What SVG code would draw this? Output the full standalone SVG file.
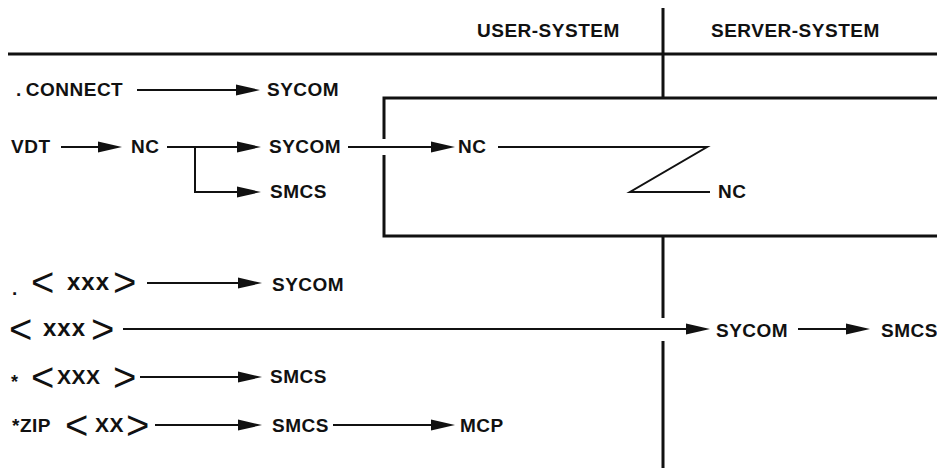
<svg xmlns="http://www.w3.org/2000/svg" width="937" height="468" viewBox="0 0 937 468">
<defs>
<marker id="ah" markerUnits="userSpaceOnUse" markerWidth="24" markerHeight="12" refX="13" refY="6" orient="auto"><path d="M0,0.5 L24,6 L0,11.5 Z" fill="#111"/></marker>
</defs>
<style>
.t{font-family:"Liberation Sans",Arial,sans-serif;font-weight:bold;font-size:19px;letter-spacing:0.5px;fill:#111}
.b{font-family:"Liberation Sans",Arial,sans-serif;font-size:40px;fill:#111}
.x{font-family:"Liberation Sans",Arial,sans-serif;font-weight:bold;font-size:24px;letter-spacing:1px;fill:#111}
.X{font-family:"Liberation Sans",Arial,sans-serif;font-weight:bold;font-size:21px;letter-spacing:0.5px;fill:#111}
.c{fill:none;stroke:#111;stroke-width:2}
.a{marker-end:url(#ah)}
.frame{fill:none;stroke:#111;stroke-width:3}
</style>
<rect width="937" height="468" fill="#fff"/>
<g id="frame">
<path class="frame" d="M8,54 H937"/>
<path class="frame" d="M663,8 V98 M663,236 V318 M663,341 V468"/>
<path class="frame" d="M937,98 H384 V139 M384,155 V236 H937"/>
<text class="t" x="477" y="37">USER-SYSTEM</text>
<text class="t" x="711" y="37">SERVER-SYSTEM</text>
</g>
<g id="connectors">
<path class="c a" d="M137,90 H249"/>
<path class="c a" d="M61,147 H111"/>
<path class="c a" d="M167,147 H250"/>
<path class="c a" d="M195,147 V192 H250"/>
<path class="c a" d="M348,147 H444"/>
<path class="c" d="M498,147 H707 L630,192 H710"/>
<path class="c a" d="M147,283 H251"/>
<path class="c a" d="M123,329 H699"/>
<path class="c a" d="M798,329 H859"/>
<path class="c a" d="M140,377 H251"/>
<path class="c a" d="M155,425 H251"/>
<path class="c a" d="M333,425 H444"/>
</g>
<g id="n-connect"><text class="t" x="16" y="96">.<tspan dx="4">CONNECT</tspan></text></g>
<g id="n-sycom1"><text class="t" x="267" y="96">SYCOM</text></g>
<g id="n-vdt"><text class="t" x="11" y="153">VDT</text></g>
<g id="n-nc1"><text class="t" x="131" y="153">NC</text></g>
<g id="n-sycom2"><text class="t" x="269" y="153">SYCOM</text></g>
<g id="n-smcs1"><text class="t" x="270" y="198">SMCS</text></g>
<g id="n-nc2"><text class="t" x="458" y="153">NC</text></g>
<g id="n-nc3"><text class="t" x="718" y="198">NC</text></g>
<g id="n-row1">
<text class="t" x="12" y="295">.</text>
<text class="b" x="31" y="296">&lt;</text>
<text class="x" x="67" y="290">xxx</text>
<text class="b" x="113" y="296">&gt;</text>
</g>
<g id="n-sycom3"><text class="t" x="272" y="291">SYCOM</text></g>
<g id="n-row2">
<text class="b" x="9" y="343">&lt;</text>
<text class="x" x="43" y="336">xxx</text>
<text class="b" x="91" y="343">&gt;</text>
</g>
<g id="n-sycom4"><text class="t" x="716" y="337">SYCOM</text></g>
<g id="n-smcs2"><text class="t" x="881" y="337">SMCS</text></g>
<g id="n-row3">
<text class="t" x="11" y="388" style="font-size:18px">*</text>
<text class="b" x="31" y="391">&lt;</text>
<text class="X" x="57" y="384">XXX</text>
<text class="b" x="113" y="391">&gt;</text>
</g>
<g id="n-smcs3"><text class="t" x="270" y="383">SMCS</text></g>
<g id="n-row4">
<text class="t" x="12" y="432">*ZIP</text>
<text class="b" x="65" y="439">&lt;</text>
<text class="X" x="95" y="432">XX</text>
<text class="b" x="126" y="439">&gt;</text>
</g>
<g id="n-smcs4"><text class="t" x="272" y="432">SMCS</text></g>
<g id="n-mcp"><text class="t" x="460" y="432">MCP</text></g>
</svg>
